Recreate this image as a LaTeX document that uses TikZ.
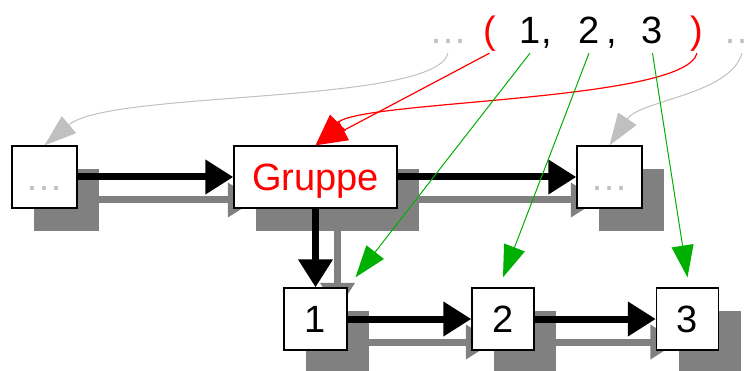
\documentclass[tikz,border=0pt]{standalone}
\usepackage{fontspec}
\setmainfont{Liberation Sans}
\usetikzlibrary{arrows.meta}
\definecolor{chainred}{HTML}{FF0000}
\definecolor{chaingreen}{HTML}{00B000}
\definecolor{chaingray}{HTML}{C0C0C0}
\definecolor{chainshade}{HTML}{808080}
\tikzset{
  ch/box/.style={
    draw=black, fill=white, line width=1.3pt, minimum height=62pt, inner sep=0pt,
    font=\fontsize{38}{40}\selectfont, text height=27pt, text depth=0pt
  },
  ch/shade/.style={fill=chainshade, minimum height=62pt, inner sep=0pt},
  ch/item/.style={
    font=\fontsize{38}{40}\selectfont, anchor=base, inner xsep=0pt, inner ysep=9pt,
    text depth=0pt
  },
  ch/link/.style={-{Triangle[length=28pt,width=33pt]}, line width=7pt},
  ch/ptr/.style={-{Triangle[length=32pt,width=22pt]}, line width=1pt}
}
\begin{document}
\begin{tikzpicture}[x=1pt, y=-1pt]
  \useasboundingbox (0,0) rectangle (749,371);
  % shadow copy of the chain, shifted down right
  \node[ch/shade, minimum width=65pt]  (prev-s) at (66.5,200) {};
  \node[ch/shade, minimum width=163pt] (grp-s)  at (337.5,200) {};
  \node[ch/shade, minimum width=65pt]  (next-s) at (631.5,200) {};
  \node[ch/shade, minimum width=63pt]  (el1-s)  at (337.5,342) {};
  \node[ch/shade, minimum width=62pt]  (el2-s)  at (525,342) {};
  \node[ch/shade, minimum width=62pt]  (el3-s)  at (709.5,342) {};
  \draw[ch/link, chainshade] (prev-s) -- (grp-s);
  \draw[ch/link, chainshade] (grp-s) -- (next-s);
  \draw[ch/link, chainshade] (grp-s) -- (el1-s);
  \draw[ch/link, chainshade] (el1-s) -- (el2-s);
  \draw[ch/link, chainshade] (el2-s) -- (el3-s);

  % the chain itself
  \node[ch/box, minimum width=65pt, text=chaingray] (prev) at (44.5,177) {…};
  \node[ch/box, minimum width=163pt, text=chainred] (grp) at (315.5,177) {Gruppe};
  \node[ch/box, minimum width=65pt, text=chaingray] (next) at (609.5,177) {…};
  \node[ch/box, minimum width=63pt] (el1) at (315.5,319) {1};
  \node[ch/box, minimum width=62pt] (el2) at (503,319) {2};
  \node[ch/box, minimum width=62pt] (el3) at (687.5,319) {3};
  \draw[ch/link] (prev) -- (grp);
  \draw[ch/link] (grp) -- (next);
  \draw[ch/link] (grp) -- (el1);
  \draw[ch/link] (el1) -- (el2);
  \draw[ch/link] (el2) -- (el3);

  % the list written out on top
  \node[ch/item, text=chaingray] (dotsA)  at (448,44)   {…};
  \node[ch/item, text=chainred]  (parA)   at (489.5,44) {(};
  \node[ch/item]                 (numA)   at (530,44)   {1};
  \node[ch/item]                 (commaA) at (546.5,44) {,};
  \node[ch/item]                 (numB)   at (589,44)   {2};
  \node[ch/item]                 (commaB) at (611.5,44) {,};
  \node[ch/item]                 (numC)   at (652.5,44) {3};
  \node[ch/item, text=chainred]  (parB)   at (697,44)   {)};
  \node[ch/item, text=chaingray] (dotsB)  at (742,44)   {…};

  \draw[ch/ptr, chaingray] (dotsA.south) .. controls (435,105) and (110,90) .. (prev.north);
  \draw[ch/ptr, chaingray] (dotsB.south) .. controls (730,95) and (640,100) .. (next.north);
  \draw[ch/ptr, chainred, line width=1.2pt] (parA.south) -- (grp.north);
  \draw[ch/ptr, chainred, line width=1.2pt] (parB.south) .. controls (685,102) and (360,100) .. (grp.north);
  \draw[ch/ptr, chaingreen] (numA.south) -- ([xshift=40pt, yshift=10pt]el1.north);
  \draw[ch/ptr, chaingreen] (numB.south) -- ([yshift=10pt]el2.north);
  \draw[ch/ptr, chaingreen] (numC.south) -- ([yshift=10pt]el3.north);
\end{tikzpicture}
\end{document}
